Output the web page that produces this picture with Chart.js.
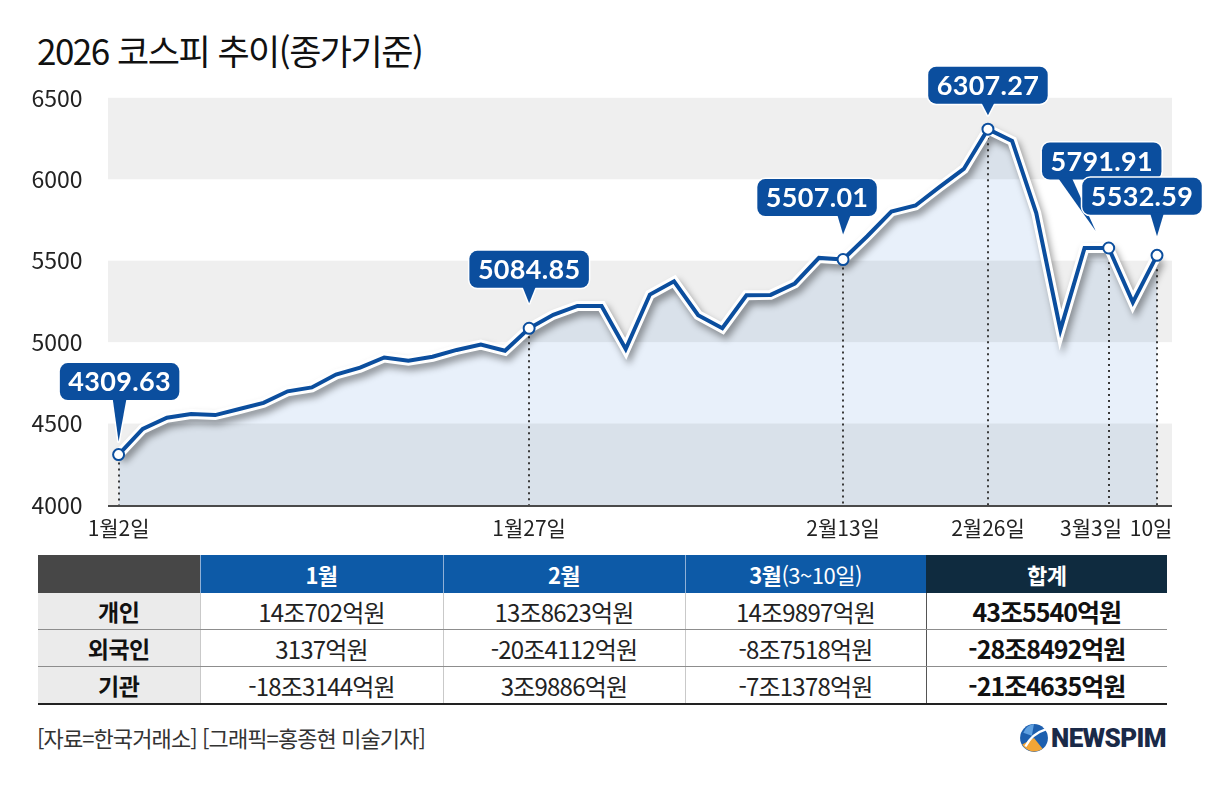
<!DOCTYPE html>
<html lang="ko">
<head>
<meta charset="utf-8">
<title>2026 코스피 추이(종가기준)</title>
<script src="https://cdn.jsdelivr.net/npm/chart.js@4.4.1/dist/chart.umd.min.js"></script>
<style>
  html, body { margin: 0; padding: 0; background: #fff; }
  body {
    width: 1205px; height: 787px; position: relative; overflow: hidden;
    font-family: "Noto Sans CJK KR", "Noto Sans", sans-serif; color: #111;
  }
  #title {
    position: absolute; left: 37px; top: 26px;
    font-size: 35px; line-height: 48px; letter-spacing: -1.5px; font-weight: 400;
  }
  #chartBox { position: absolute; left: 0; top: 56px; width: 1205px; height: 494px; }
  #flows {
    position: absolute; left: 38px; top: 555px; width: 1129px;
    border-collapse: collapse; table-layout: fixed;
  }
  #flows th {
    height: 38px; padding: 0; font-size: 22px; font-weight: 700; color: #fff;
    background: #0d5aa7; border-left: 1px solid #8fb0d6; letter-spacing: -0.5px;
  }
  #flows th.corner { background: #474747; border-left: none; }
  #flows th.total { background: #0f2b3f; border-left: 1px solid #0f2b3f; }
  #flows th .sub { font-weight: 400; }
  #flows td {
    height: 36px; padding: 0; text-align: center; font-size: 24px; color: #222;
    border-bottom: 1px solid #8d8d8d; border-left: 1px solid #c9c9c9; letter-spacing: -0.8px;
  }
  #flows td.who { background: #ebebeb; font-weight: 700; font-size: 23px; color: #111; border-left: none; letter-spacing: -0.5px; }
  #flows td.sum { font-weight: 700; font-size: 25px; color: #111; border-left: 1px solid #555; letter-spacing: -1px; }
  #flows tr:last-child td { border-bottom: 2px solid #222; }
  #source { position: absolute; left: 37px; top: 722px; font-size: 22px; line-height: 30px; color: #333; letter-spacing: -0.9px; }
  #logo { position: absolute; left: 1019px; top: 723px; display: flex; align-items: center; }
  #logo span { font-family: Roboto, "Liberation Sans", sans-serif; font-weight: 900; font-size: 26px; color: #1a2a48; margin-left: 2px; letter-spacing: -0.6px; }
</style>
</head>
<body>
<div id="title">2026 코스피 추이(종가기준)</div>
<div id="chartBox"><canvas id="kospiChart"></canvas></div>
<table id="flows"></table>
<div id="source">[자료=한국거래소] [그래픽=홍종현 미술기자]</div>
<div id="logo">
  <svg width="30" height="30" viewBox="0 0 28 28">
    <circle cx="14" cy="14" r="13" fill="#1d5fae"/>
    <path d="M3 20 A13 13 0 0 0 22 24 L14 14 Z" fill="#f3a536"/>
    <path d="M6 22 Q12 10 25 6" stroke="#fff" stroke-width="2.2" fill="none"/>
    <path d="M4 9 A13 13 0 0 1 14 1 L12 12 Z" fill="#5fa0e0"/>
  </svg>
  <span>NEWSPIM</span>
</div>
<script>
// ── 데이터 ────────────────────────────────────────────────
const dates = [
  '1월2일','1월5일','1월6일','1월7일','1월8일','1월9일','1월12일','1월13일','1월14일','1월15일','1월16일',
  '1월19일','1월20일','1월21일','1월22일','1월23일','1월26일','1월27일','1월28일','1월29일','1월30일',
  '2월2일','2월3일','2월4일','2월5일','2월6일','2월9일','2월10일','2월11일','2월12일','2월13일',
  '2월19일','2월20일','2월23일','2월24일','2월25일','2월26일','2월27일',
  '3월3일','3월4일','3월5일','3월6일','3월9일','3월10일'
];
const kospi = [
  4309.63, 4467, 4536, 4558, 4552, 4589, 4627, 4698, 4722, 4801, 4843,
  4906, 4886, 4910, 4952, 4985, 4947, 5084.85, 5168, 5222, 5222,
  4958, 5292, 5373, 5165, 5085, 5288, 5290, 5360, 5517, 5507.01,
  5650, 5802, 5839, 5953, 6063, 6307.27, 6235,
  5791.91, 5075, 5578, 5578, 5244, 5532.59
];
const yTicks   = [4000, 4500, 5000, 5500, 6000, 6500];
const tickAt   = [0, 17, 30, 36, 41, 43];
const tickText = ['1월2일', '1월27일', '2월13일', '2월26일', '3월3일', '10일'];
const calloutAt   = [0, 17, 30, 36, 41, 43];
const calloutText = ['4309.63', '5084.85', '5507.01', '6307.27', '5791.91', '5532.59'];

// 투자자별 순매수 표
const investors  = ['개인', '외국인', '기관'];
const monthHeads = ['1월', '2월', '3월'];
const monthSubs  = ['', '', '(3~10일)'];
const flowJan    = ['14조702억원', '3137억원', '-18조3144억원'];
const flowFeb    = ['13조8623억원', '-20조4112억원', '3조9886억원'];
const flowMar    = ['14조9897억원', '-8조7518억원', '-7조1378억원'];
const flowTotal  = ['43조5540억원', '-28조8492억원', '-21조4635억원'];

// ── 표 만들기 ─────────────────────────────────────────────
const table = document.getElementById('flows');
let html = '<colgroup><col style="width:162px"><col style="width:243px"><col style="width:242px"><col style="width:241px"><col style="width:241px"></colgroup>';
html += '<tr><th class="corner"></th>';
monthHeads.forEach((m, i) => {
  html += `<th>${m}${monthSubs[i] ? `<span class="sub">${monthSubs[i]}</span>` : ''}</th>`;
});
html += '<th class="total">합계</th></tr>';
investors.forEach((who, i) => {
  html += `<tr><td class="who">${who}</td><td>${flowJan[i]}</td><td>${flowFeb[i]}</td><td>${flowMar[i]}</td><td class="sum">${flowTotal[i]}</td></tr>`;
});
table.innerHTML = html;

// ── 스타일 ────────────────────────────────────────────────
const BLUE = '#0b4e9e';
const FONT = '"Noto Sans CJK KR", "Noto Sans", sans-serif';
// 말풍선 위치: 박스 중심/꼬리 끝을 데이터 점 기준 오프셋으로
const calloutGeom = [
  { dx: 1,   dy: -73, tail: 0,   tipDx: 0,   tipDy: -13 },
  { dx: 0,   dy: -59, tail: 0,   tipDx: 0,   tipDy: -25 },
  { dx: -26, dy: -62, tail: 27,  tipDx: 0,   tipDy: -25 },
  { dx: 0,   dy: -44, tail: 0,   tipDx: 0,   tipDy: -14 },
  { dx: -7,  dy: -87, tail: -37, tipDx: -13, tipDy: -17 },
  { dx: -15, dy: -59, tail: 15,  tipDx: 0,   tipDy: -19 },
];
// x축 라벨을 왼쪽으로 살짝 미는 뒤쪽 공백 수
const tickNudge = { '3월3일': 6, '10일': 2 };

const decor = {
  id: 'decor',
  beforeDatasetsDraw(chart) {
    const { ctx, chartArea: a, scales: { x, y } } = chart;
    const L = a.left - 10.6, R = a.right + 15;
    ctx.save();
    // 회색 띠 (채움 위에 곱하기로)
    ctx.globalCompositeOperation = 'multiply';
    ctx.fillStyle = '#efefef';
    for (let i = 0; i < yTicks.length - 1; i += 2) {
      const top = y.getPixelForValue(yTicks[i + 1]);
      const bot = y.getPixelForValue(yTicks[i]);
      ctx.fillRect(L, top, R - L, bot - top);
    }
    ctx.globalCompositeOperation = 'source-over';
    // 바닥 축선
    ctx.strokeStyle = '#4a4a4a';
    ctx.lineWidth = 2;
    ctx.beginPath();
    ctx.moveTo(L, a.bottom + 1);
    ctx.lineTo(R, a.bottom + 1);
    ctx.stroke();
    // 점선
    ctx.strokeStyle = '#3a3a3a';
    ctx.lineWidth = 2;
    ctx.setLineDash([2, 4]);
    calloutAt.forEach(idx => {
      const px = Math.round(x.getPixelForValue(idx));
      const py = y.getPixelForValue(kospi[idx]);
      ctx.beginPath();
      ctx.moveTo(px, py + 8);
      ctx.lineTo(px, a.bottom);
      ctx.stroke();
    });
    ctx.restore();
  },
  beforeDatasetDraw(chart, args) {
    if (args.index === 1) {
      const ctx = chart.ctx;
      ctx.save();
      ctx.shadowColor = 'rgba(0,0,0,0.38)';
      ctx.shadowBlur = 7;
      ctx.shadowOffsetX = 3;
      ctx.shadowOffsetY = 5;
    }
  },
  afterDatasetDraw(chart, args) {
    if (args.index === 1) chart.ctx.restore();
  },
  afterDatasetsDraw(chart) {
    const { ctx, scales: { x, y } } = chart;
    ctx.save();
    ctx.font = 'bold 27px Lato, "Noto Sans", sans-serif';
    ctx.letterSpacing = '0.3px';
    ctx.textAlign = 'center';
    ctx.textBaseline = 'middle';
    calloutAt.forEach((idx, k) => {
      const g = calloutGeom[k];
      const px = x.getPixelForValue(idx), py = y.getPixelForValue(kospi[idx]);
      const w = ctx.measureText(calloutText[k]).width + 17, h = 37;
      const cx = px + g.dx, cy = py + g.dy;
      const bx = cx - w / 2, by = cy - h / 2;
      const baseX = cx + g.tail;
      const box = new Path2D();
      box.roundRect(bx, by, w, h, 8);
      const tail = new Path2D();
      tail.moveTo(baseX - 7, by + h - 2);
      tail.lineTo(px + g.tipDx, py + g.tipDy);
      tail.lineTo(baseX + 7, by + h - 2);
      tail.closePath();
      ctx.lineJoin = 'round';
      ctx.lineWidth = 3;
      ctx.strokeStyle = '#fff';
      ctx.stroke(box);
      ctx.stroke(tail);
      ctx.fillStyle = BLUE;
      ctx.fill(box);
      ctx.fill(tail);
      ctx.fillStyle = '#fff';
      ctx.fillText(calloutText[k], cx, cy + 1);
    });
    ctx.restore();
  }
};

new Chart(document.getElementById('kospiChart'), {
  type: 'line',
  data: {
    labels: dates,
    datasets: [
      {
        data: kospi,
        borderColor: BLUE,
        borderWidth: 4,
        fill: false,
        tension: 0,
        clip: false,
        pointRadius: (c) => calloutAt.includes(c.dataIndex) ? 5.5 : 0,
        pointBackgroundColor: '#fff',
        pointBorderColor: BLUE,
        pointBorderWidth: 2,
      },
      {
        data: kospi,
        borderColor: '#fff',
        borderWidth: 10,
        fill: false,
        tension: 0,
        clip: false,
        pointRadius: 0,
      },
      {
        data: kospi,
        borderWidth: 0,
        borderColor: 'rgba(0,0,0,0)',
        backgroundColor: '#e8f0fa',
        fill: 'start',
        tension: 0,
        pointRadius: 0,
      }
    ]
  },
  options: {
    responsive: true,
    maintainAspectRatio: false,
    animation: false,
    events: [],
    layout: { padding: { left: 0, right: 48, top: 37, bottom: 0 } },
    plugins: {
      legend: { display: false },
      tooltip: { enabled: false },
      filler: { drawTime: 'beforeDraw' }
    },
    scales: {
      x: {
        type: 'category',
        offset: false,
        grid: { display: false },
        border: { display: false },
        ticks: {
          autoSkip: false, maxRotation: 0, minRotation: 0, padding: 2,
          color: '#222', font: { family: FONT, size: 21 },
          callback: (v, i) => {
            const k = tickAt.indexOf(i);
            if (k < 0) return '';
            const t = tickText[k];
            return t + '\u00a0'.repeat(tickNudge[t] || 0);
          }
        },
        afterFit: (s) => { s.height = 45; }
      },
      y: {
        min: yTicks[0], max: yTicks[yTicks.length - 1],
        grid: { display: false },
        border: { display: false },
        ticks: {
          stepSize: 500, padding: 28, color: '#222', font: { family: FONT, size: 23 },
          callback: (v) => String(v)
        },
        afterFit: (s) => { s.width = 118.6; }
      }
    }
  },
  plugins: [decor]
});
</script>
</body>
</html>
